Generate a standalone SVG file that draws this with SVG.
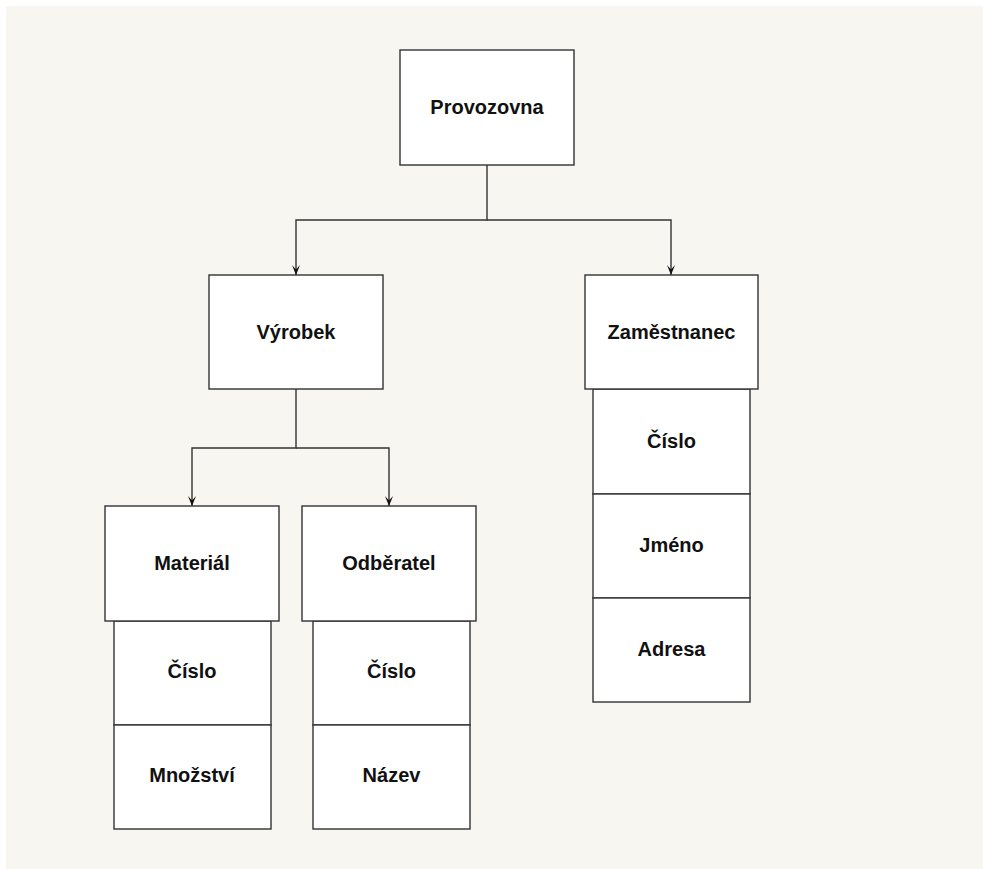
<svg xmlns="http://www.w3.org/2000/svg" width="983" height="869" viewBox="0 0 983 869">
  <style>
    .box { fill: #ffffff; stroke: #333333; stroke-width: 1.4; }
    .lbl { font-family: "Liberation Sans", Arial, sans-serif; font-size: 20px; font-weight: bold; fill: #111111; text-anchor: middle; }
    .edge { fill: none; stroke: #333333; stroke-width: 1.4; }
    .tip { fill: none; stroke: #333333; stroke-width: 1.4; marker-end: url(#arrow); }
  </style>
  <defs>
    <!-- small concave arrowhead, tip at the end point -->
    <marker id="arrow" viewBox="0 0 10 10" refX="10" refY="5" markerWidth="10" markerHeight="9" markerUnits="userSpaceOnUse" orient="auto" preserveAspectRatio="none">
      <path d="M0,0.5 L10,5 L0,9.5 L4.5,5 Z" fill="#111111"/>
    </marker>
  </defs>

  <!-- page -->
  <rect x="0" y="0" width="983" height="869" fill="#ffffff"/>
  <rect x="6" y="6" width="977" height="863" fill="#f8f6f0"/>

  <!-- connectors -->
  <g id="connectors">
    <path class="tip" d="M487,165 V220 H296 V275"/>
    <path class="tip" d="M487,220 H671 V275"/>
    <path class="tip" d="M296,389 V448 H192 V506"/>
    <path class="tip" d="M296,448 H389 V506"/>
  </g>

  <!-- Provozovna -->
  <g id="provozovna">
    <rect class="box" x="400" y="50" width="174" height="115"/>
    <text class="lbl" x="487" y="114">Provozovna</text>
  </g>

  <!-- Výrobek -->
  <g id="vyrobek">
    <rect class="box" x="209" y="275" width="174" height="114"/>
    <text class="lbl" x="296" y="339">Výrobek</text>
  </g>

  <!-- Zaměstnanec with attributes -->
  <g id="zamestnanec">
    <rect class="box" x="593" y="389" width="157" height="105"/>
    <rect class="box" x="593" y="494" width="157" height="104"/>
    <rect class="box" x="593" y="598" width="157" height="104"/>
    <rect class="box" x="585" y="275" width="173" height="114"/>
    <text class="lbl" x="671.5" y="339">Zaměstnanec</text>
    <text class="lbl" x="671.5" y="448">Číslo</text>
    <text class="lbl" x="671.5" y="552">Jméno</text>
    <text class="lbl" x="671.5" y="656">Adresa</text>
  </g>

  <!-- Materiál with attributes -->
  <g id="material">
    <rect class="box" x="114" y="621" width="157" height="104"/>
    <rect class="box" x="114" y="725" width="157" height="104"/>
    <rect class="box" x="105" y="506" width="174" height="115"/>
    <text class="lbl" x="192" y="570">Materiál</text>
    <text class="lbl" x="192" y="678">Číslo</text>
    <text class="lbl" x="192" y="782">Množství</text>
  </g>

  <!-- Odběratel with attributes -->
  <g id="odberatel">
    <rect class="box" x="313" y="621" width="157" height="104"/>
    <rect class="box" x="313" y="725" width="157" height="104"/>
    <rect class="box" x="302" y="506" width="174" height="115"/>
    <text class="lbl" x="389" y="570">Odběratel</text>
    <text class="lbl" x="391.5" y="678">Číslo</text>
    <text class="lbl" x="391.5" y="782">Název</text>
  </g>
</svg>
